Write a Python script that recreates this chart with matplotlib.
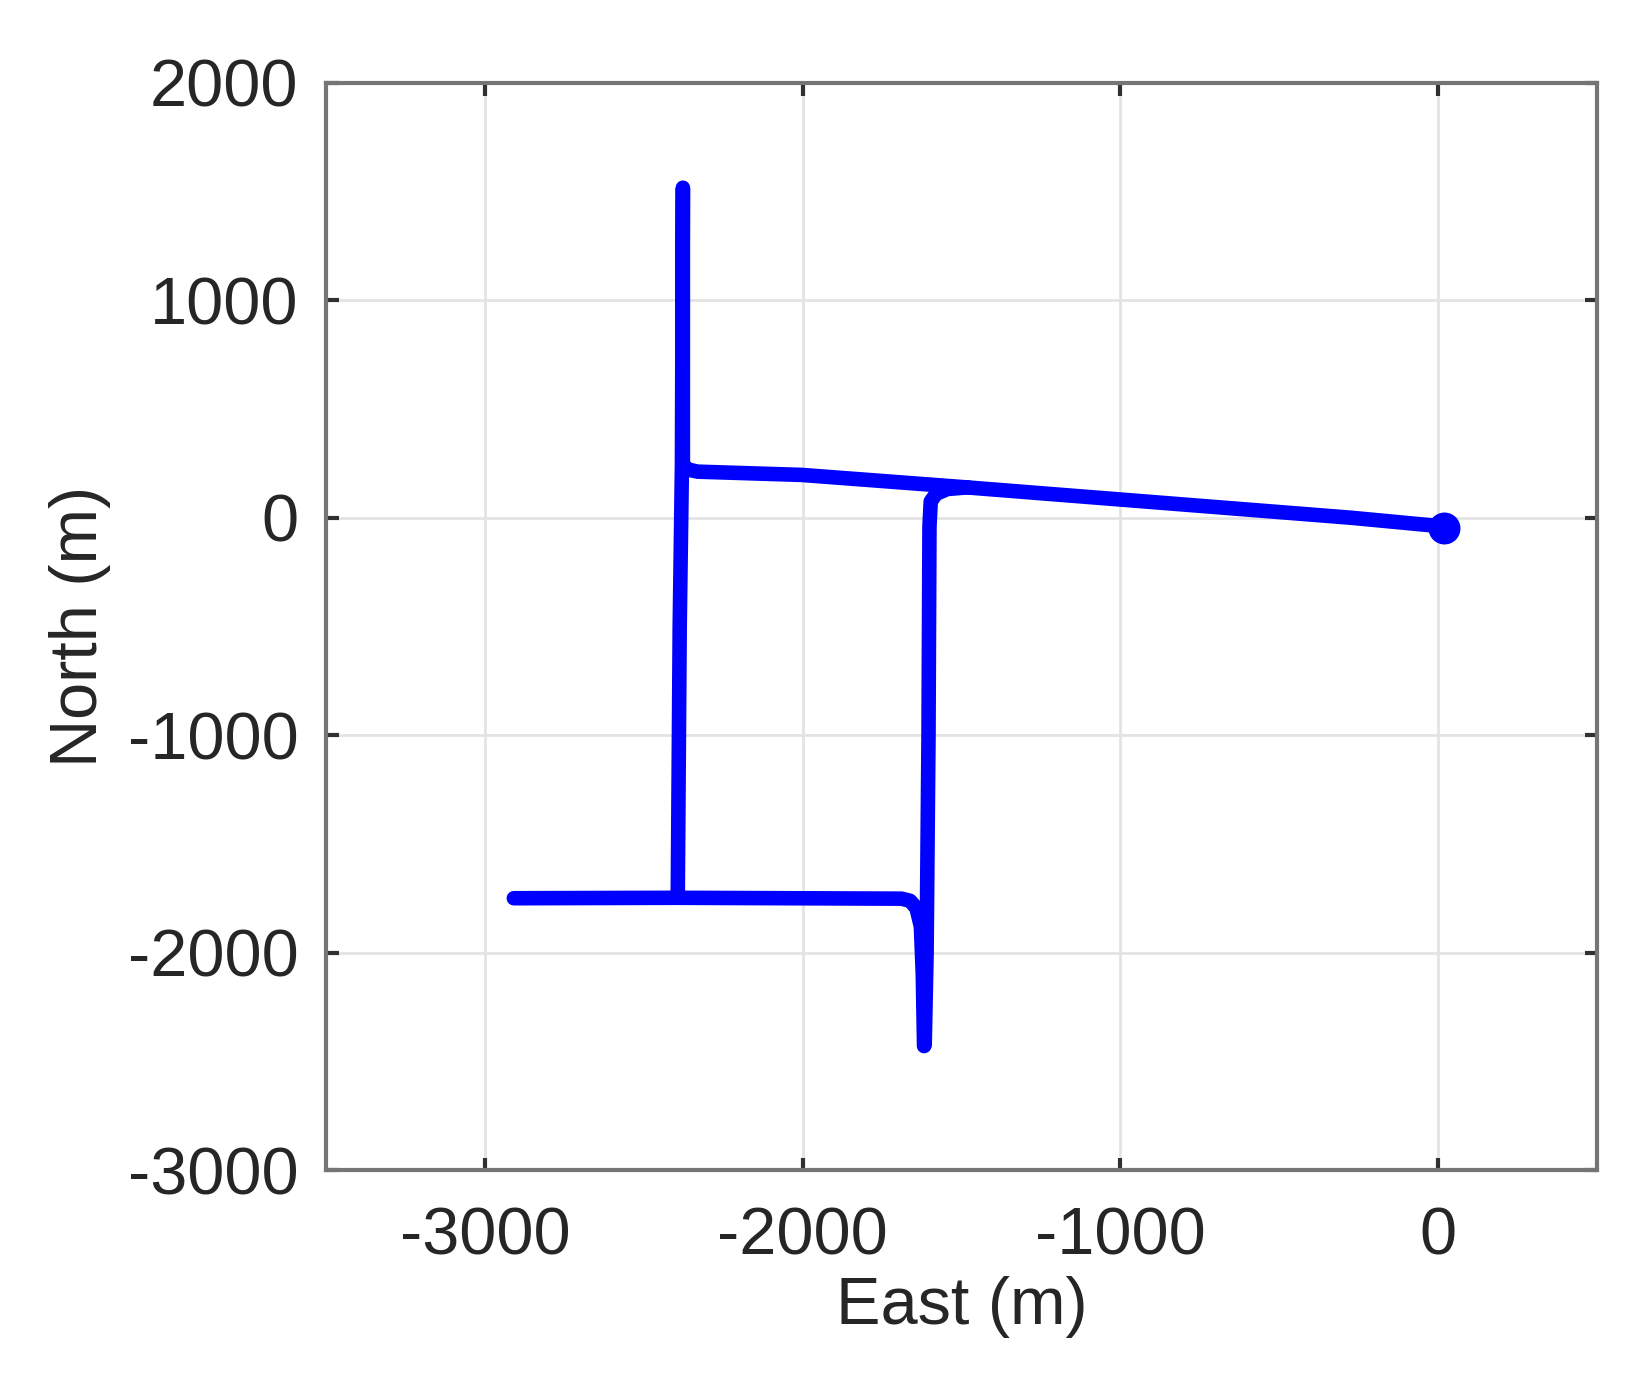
import matplotlib.pyplot as plt

# Trajectory pieces (East, North) in metres
east_main = [16, -274, -1469, -2003, -2330, -2362, -2377, -2377, -2380, -2387, -2393]
north_main = [-40, 0, 138, 197, 212, 222, 245, 1518, 240, -500, -1716]

east_south = [-2909, -2393, -1689, -1662, -1642, -1628, -1622, -1618]
north_south = [-1750, -1748, -1752, -1762, -1795, -1880, -2100, -2430]

east_east = [-1480, -1545, -1580, -1597, -1601, -1604, -1610, -1616]
north_east = [140, 132, 110, 75, -41, -1000, -2000, -2425]

start_east = [19]
start_north = [-46]

plt.rcParams['font.family'] = ['Liberation Sans', 'DejaVu Sans']
plt.rcParams['axes.unicode_minus'] = False

fig = plt.figure(figsize=(16.27, 13.82), dpi=100)
ax = fig.add_axes([0.2004, 0.1534, 0.7812, 0.7866])

blue = '#0000ff'
for xs, ys in [(east_main, north_main), (east_south, north_south), (east_east, north_east)]:
    ax.plot(xs, ys, color=blue, linewidth=10.5, solid_capstyle='round', solid_joinstyle='round')
ax.plot(start_east, start_north, 'o', color=blue, markersize=22)

ax.set_xlim(-3500, 500)
ax.set_ylim(-3000, 2000)
ax.set_xticks([-3000, -2000, -1000, 0])
ax.set_yticks([-3000, -2000, -1000, 0, 1000, 2000])

ax.grid(True, color='#e3e3e3', linewidth=2)
ax.set_axisbelow(True)
for s in ax.spines.values():
    s.set_color('#757575')
    s.set_linewidth(3)

ax.tick_params(direction='in', length=9, width=3, color='#303030',
               labelsize=48, labelcolor='#262626', top=True, right=True, pad=20)
ax.tick_params(axis='x', pad=26)

ax.set_xlabel('East (m)', fontsize=48, color='#262626', labelpad=6)
ax.set_ylabel('North (m)', fontsize=48, color='#262626', labelpad=12)

fig.savefig('out.png', dpi=100)
